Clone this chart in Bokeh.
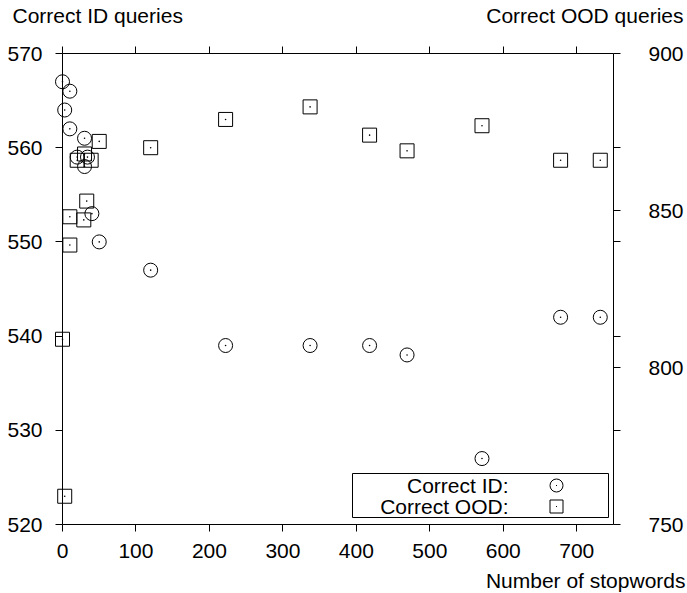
from bokeh.plotting import figure
from bokeh.models import Range1d, LinearAxis, FixedTicker, Label, BoxAnnotation
from bokeh.embed import file_html
from bokeh.resources import INLINE

# ---- data ----
id_x = [0, 3, 10, 10, 20, 30, 30, 34, 40, 50, 120, 222, 337, 418, 469, 571, 678, 732]
id_y = [567, 564, 566, 562, 559, 561, 558, 559, 553, 550, 547, 539, 539, 539, 538, 527, 542, 542]
ood_x = [0, 3, 10, 10, 20, 29, 30, 33, 39, 50, 120, 222, 337, 418, 469, 571, 678, 732]
ood_y = [809, 759, 848, 839, 866, 847, 868, 853, 866, 872, 870, 879, 883, 874, 869, 877, 866, 866]

x_ticks = [0, 100, 200, 300, 400, 500, 600, 700]
y_ticks = [520, 530, 540, 550, 560, 570]
y2_ticks = [750, 800, 850, 900]
x_lim = (0, 750)
y_lim = (520, 570)
y2_lim = (750, 900)

# ---- layout (canvas pixels, y measured from top) ----
W, H = 687, 593
BL, BR, BT, BB = 62, 613, 53, 524   # plot box edges

FONT = "Liberation Sans"
FS = "21px"

px_x = (BR - BL) / (x_lim[1] - x_lim[0])
px_y = (BB - BT) / (y_lim[1] - y_lim[0])
px_y2 = (BB - BT) / (y2_lim[1] - y2_lim[0])

p = figure(frame_width=W, frame_height=H, min_border=0,
           x_range=Range1d(x_lim[0] - BL / px_x, x_lim[1] + (W - BR) / px_x),
           y_range=Range1d(y_lim[0] - (H - BB) / px_y, y_lim[1] + BT / px_y),
           x_axis_location=None, y_axis_location=None,
           output_backend="svg", toolbar_location=None)
p.extra_y_ranges = {"y2": Range1d(y2_lim[0] - (H - BB) / px_y2, y2_lim[1] + BT / px_y2)}
p.grid.visible = False
p.outline_line_color = None
p.background_fill_color = "white"
p.border_fill_color = "white"


def style(ax, standoff):
    ax.axis_line_color = "black"
    ax.axis_line_width = 1
    ax.major_tick_line_color = "black"
    ax.major_tick_line_width = 1
    ax.major_tick_in = 0
    ax.major_tick_out = 7
    ax.minor_tick_line_color = None
    ax.major_label_text_font = FONT
    ax.major_label_text_font_size = FS
    ax.major_label_text_color = "black"
    ax.major_label_standoff = standoff


xa = LinearAxis(ticker=FixedTicker(ticks=x_ticks), fixed_location=y_lim[0], bounds=x_lim)
style(xa, 12)
p.add_layout(xa, "below")

ya = LinearAxis(ticker=FixedTicker(ticks=y_ticks), fixed_location=x_lim[0], bounds=y_lim)
style(ya, 13)
p.add_layout(ya, "left")

# right border: y2 ticks plus mirrored left ticks mapped into y2 space
scale = (y2_lim[1] - y2_lim[0]) / (y_lim[1] - y_lim[0])
mirror = [y2_lim[0] + (t - y_lim[0]) * scale for t in y_ticks]
right_ticks = sorted(set(y2_ticks + mirror))
ra = LinearAxis(y_range_name="y2", ticker=FixedTicker(ticks=right_ticks),
                fixed_location=x_lim[1], bounds=y2_lim)
style(ra, 28)
ra.major_label_overrides = {t: "" for t in right_ticks if t not in y2_ticks}
p.add_layout(ra, "right")

ta = LinearAxis(ticker=FixedTicker(ticks=x_ticks), fixed_location=y_lim[1], bounds=x_lim)
style(ta, 0)
ta.major_label_text_font_size = "0px"
p.add_layout(ta, "above")

# ---- points ----
p.scatter(id_x, id_y, marker="circle", size=14, fill_color=None,
          line_color="black", line_width=1)
p.scatter(id_x, id_y, marker="circle", size=1.6, fill_color="black", line_color=None)
p.scatter(ood_x, ood_y, marker="square", size=14, fill_color=None,
          line_color="black", line_width=1, y_range_name="y2")
p.scatter(ood_x, ood_y, marker="circle", size=1.6, fill_color="black", line_color=None,
          y_range_name="y2")


# ---- texts (screen units: from left / from bottom of the canvas) ----
def lab(text, x, y, align):
    p.add_layout(Label(x=x, y=y, x_units="screen", y_units="screen", text=text,
                       text_font=FONT, text_font_size=FS, text_color="black",
                       text_align=align, text_baseline="middle"))


lab("Correct ID queries", 12, H - 15, "left")
lab("Correct OOD queries", 683, H - 15, "right")
lab("Number of stopwords", 685, H - 580, "right")

# ---- legend ----
def sbox(l, r, b, t, **kw):
    p.add_layout(BoxAnnotation(left=l, right=r, bottom=b, top=t,
                               left_units="screen", right_units="screen",
                               bottom_units="screen", top_units="screen", **kw))


sbox(352, 608, H - 517, H - 473, fill_color="white", fill_alpha=1,
     line_color="black", line_width=1, line_alpha=1)
rows = [("Correct ID:", H - 485, 7), ("Correct OOD:", H - 506, 0)]
for text, cy, rad in rows:
    lab(text, 508, cy, "right")
    sbox(549.5, 562.5, cy - 6.5, cy + 6.5, fill_color=None, line_color="black",
         line_width=1, line_alpha=1, border_radius=rad)
    sbox(555.5, 556.5, cy - 0.5, cy + 0.5, fill_color="black", fill_alpha=1,
         line_color=None)

open("out.html", "w").write(file_html(p, INLINE))
